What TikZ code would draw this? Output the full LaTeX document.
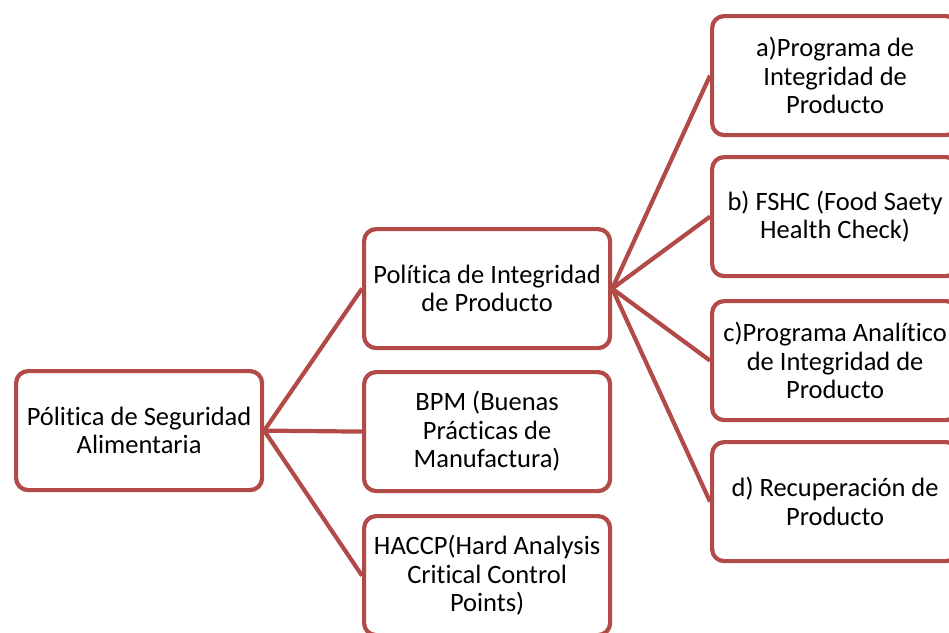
\documentclass[tikz,border=0pt]{standalone}
\usepackage{fontspec}
\setmainfont{Carlito}[Ligatures=NoCommon]
\definecolor{boxred}{RGB}{178,74,71}
\tikzset{
  box/.style={draw=boxred, line width=4.2pt, rounded corners=12pt, fill=white,
    minimum width=246pt, minimum height=119pt, align=center, inner sep=0pt,
    font=\fontsize{26.5}{28.5}\selectfont, text=black, anchor=north west},
  link/.style={draw=boxred, line width=4.2pt}
}
\begin{document}
\begin{tikzpicture}[x=1pt,y=-1pt]
\useasboundingbox (0,0) rectangle (949,632);
\begin{scope}
\clip (0,0) rectangle (949,632);
\node[box] (root) at (14,369) {Pólitica de Seguridad\\Alimentaria};
\node[box] (pip) at (362,227) {Política de Integridad\\de Producto};
\node[box] (bpm) at (362,370) {BPM (Buenas\\Prácticas de\\Manufactura)};
\node[box] (haccp) at (362,514) {HACCP(Hard Analysis\\Critical Control\\Points)};
\node[box] (a) at (710,14) {a)Programa de\\Integridad de\\Producto};
\node[box] (b) at (710,155) {b) FSHC (Food Saety\\Health Check)};
\node[box] (c) at (710,299) {c)Programa Analítico\\de Integridad de\\Producto};
\node[box] (d) at (710,440) {d) Recuperación de\\Producto};
\draw[link] (root.east) -- (pip.west);
\draw[link] (root.east) -- (bpm.west);
\draw[link] (root.east) -- (haccp.west);
\draw[link] (pip.east) -- (a.west);
\draw[link] (pip.east) -- (b.west);
\draw[link] (pip.east) -- (c.west);
\draw[link] (pip.east) -- (d.west);
\end{scope}
\end{tikzpicture}
\end{document}
